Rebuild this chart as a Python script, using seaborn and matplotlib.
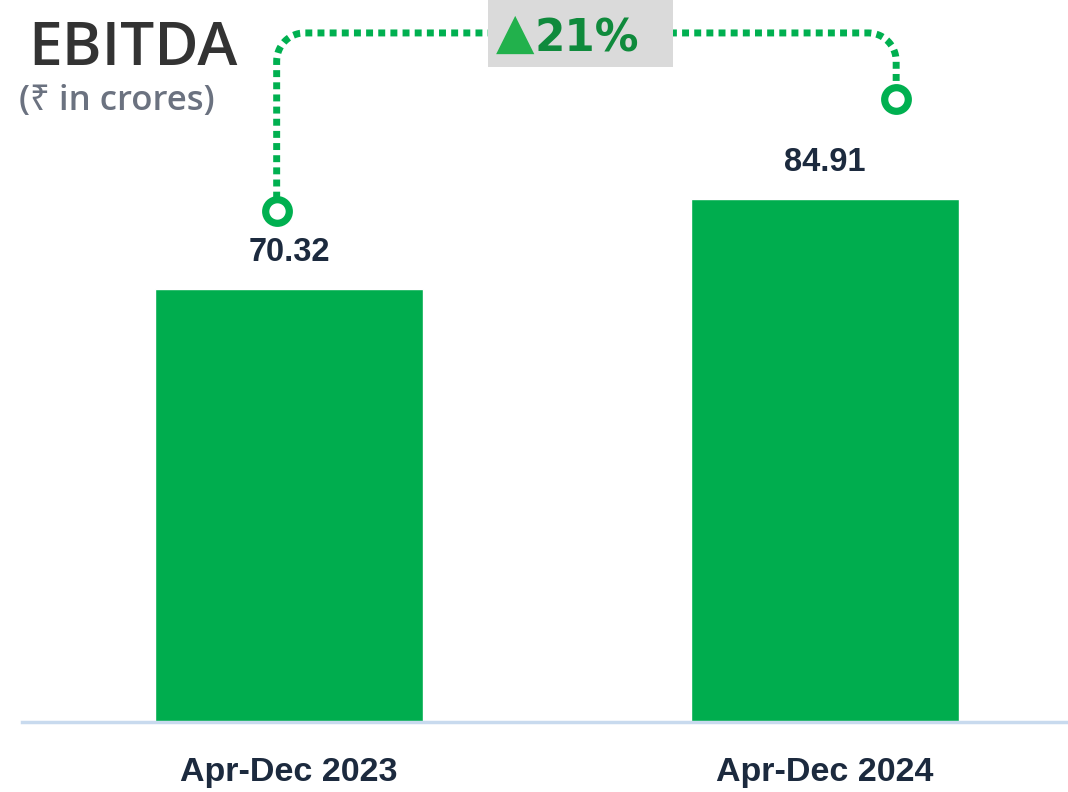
import numpy as np
import matplotlib
matplotlib.use("Agg")
import matplotlib.pyplot as plt
from matplotlib.patches import Rectangle
import seaborn as sns

# -----------------------------
# Data
# -----------------------------
periods = ["Apr-Dec 2023", "Apr-Dec 2024"]
ebitda = [70.32, 84.91]
growth_label = "21%"

bar_color = "#00ad4e"
dot_color = "#00b050"
label_color = "#1c2a3e"

sns.set_theme(style="white")
plt.rcParams["font.family"] = ["Liberation Sans", "DejaVu Sans"]

fig = plt.figure(figsize=(10.68, 7.92), dpi=100)
ax = fig.add_axes([22 / 1068, 70 / 792, 1046 / 1068, 722 / 792])

sns.barplot(x=periods, y=ebitda, color=bar_color, width=0.5,
            saturation=1, ax=ax)
ax.set_xlim(-0.498, 1.453)
ax.set_ylim(0, 117.25)

# value labels above bars
ax.bar_label(ax.containers[0], labels=[f"{v:.2f}" for v in ebitda],
             padding=15, fontsize=23.5, fontweight="bold", color=label_color)

# axis styling
for side in ["top", "left", "right"]:
    ax.spines[side].set_visible(False)
ax.spines["bottom"].set_color("#c8daee")
ax.spines["bottom"].set_linewidth(2.5)
ax.set_yticks([])
ax.set_xlabel("")
ax.set_ylabel("")
ax.tick_params(axis="x", length=0, pad=25, labelsize=24.5, labelcolor=label_color)
for t in ax.get_xticklabels():
    t.set_fontweight("bold")

# -----------------------------
# Growth connector
# -----------------------------
xl, yl = 0 - 0.023, ebitda[0] + 12.7
xr, yr = 1 + 0.1325, ebitda[1] + 16.3
yh = 111.9
rx, ry = 0.052, 4.6

t1 = np.linspace(np.pi, np.pi / 2, 20)
t2 = np.linspace(np.pi / 2, 0, 20)
px = np.concatenate([[xl], xl + rx + rx * np.cos(t1), xr - rx + rx * np.cos(t2), [xr]])
py = np.concatenate([[yl], yh - ry + ry * np.sin(t1), yh - ry + ry * np.sin(t2), [yr]])
ax.plot(px, py, color=dot_color, lw=5, linestyle=(0, (1, 0.75)),
        clip_on=False, zorder=3)
ax.plot([xl, xr], [yl, yr], linestyle="none", marker="o", markersize=17,
        markerfacecolor="white", markeredgecolor=dot_color,
        markeredgewidth=5.2, clip_on=False, zorder=4)

# grey badge with growth
ax.add_patch(Rectangle((0.4455, 0.907), 0.177, 0.093, transform=ax.transAxes,
                       facecolor="#dadada", edgecolor="none", zorder=5,
                       clip_on=False))
fig.text(515 / 1068, (792 - 34) / 792, "\u25b2", fontsize=36, color="#22b14c",
         ha="center", va="center", family="DejaVu Sans", zorder=6)
fig.text(534 / 1068, (792 - 52) / 792, growth_label, fontsize=31.5,
         fontweight="bold", color="#0f8a3c", ha="left", va="baseline",
         family="DejaVu Sans", zorder=6)

# -----------------------------
# Titles
# -----------------------------
fig.text(28 / 1068, (792 - 65) / 792, "EBITDA", fontsize=43.5,
         fontweight="semibold", color="#333333", family="Open Sans",
         ha="left", va="baseline")
fig.text(19 / 1068, (792 - 110) / 792, "(\u20b9 in crores)", fontsize=25,
         fontweight="semibold", color="#6b7280",
         family=["Open Sans", "Noto Sans", "DejaVu Sans"],
         ha="left", va="baseline")

fig.savefig("out.png", dpi=100, facecolor="white")
